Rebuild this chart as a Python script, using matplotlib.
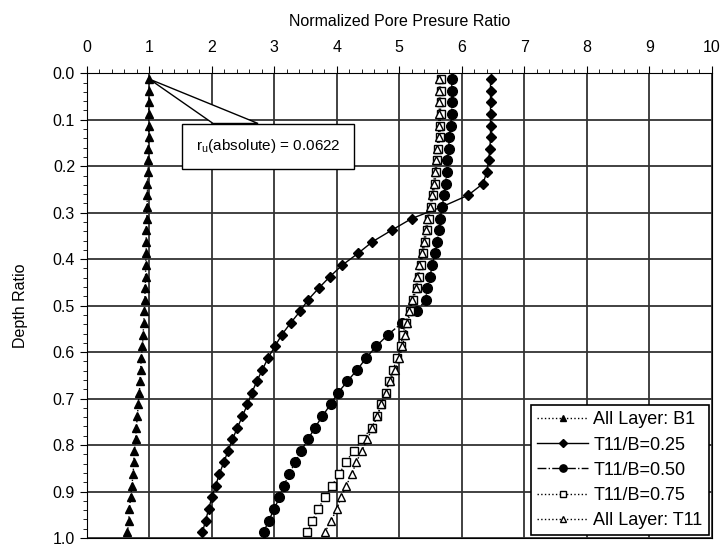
import numpy as np
import matplotlib.pyplot as plt
from matplotlib.ticker import MultipleLocator
from matplotlib.patches import Polygon

plt.rcParams['font.family'] = ['Liberation Sans', 'DejaVu Sans']

# kedalaman titik (tengah tiap lapisan)
depth = [0.0125, 0.0375, 0.0625, 0.0875, 0.1125, 0.1375, 0.1625, 0.1875,
         0.2125, 0.2375, 0.2625, 0.2875, 0.3125, 0.3375, 0.3625, 0.3875,
         0.4125, 0.4375, 0.4625, 0.4875, 0.5125, 0.5375, 0.5625, 0.5875,
         0.6125, 0.6375, 0.6625, 0.6875, 0.7125, 0.7375, 0.7625, 0.7875,
         0.8125, 0.8375, 0.8625, 0.8875, 0.9125, 0.9375, 0.9625, 0.9875]

all_b1 = [1.00, 1.00, 0.99, 0.99, 0.99, 0.99, 0.98, 0.98, 0.98, 0.97,
          0.97, 0.96, 0.96, 0.95, 0.95, 0.95, 0.94, 0.94, 0.93, 0.93,
          0.92, 0.91, 0.90, 0.89, 0.87, 0.86, 0.85, 0.84, 0.82, 0.81,
          0.79, 0.78, 0.76, 0.75, 0.74, 0.72, 0.70, 0.68, 0.67, 0.65]

t11_025 = [6.46, 6.46, 6.46, 6.46, 6.46, 6.46, 6.45, 6.43, 6.40, 6.34,
           6.10, 5.68, 5.20, 4.88, 4.57, 4.34, 4.09, 3.89, 3.71, 3.54,
           3.41, 3.26, 3.12, 3.01, 2.90, 2.81, 2.72, 2.64, 2.57, 2.49,
           2.41, 2.33, 2.26, 2.19, 2.12, 2.06, 2.00, 1.95, 1.90, 1.85]

t11_050 = [5.84, 5.84, 5.84, 5.84, 5.82, 5.80, 5.79, 5.77, 5.76, 5.74,
           5.71, 5.69, 5.65, 5.63, 5.61, 5.57, 5.53, 5.49, 5.45, 5.42,
           5.28, 5.04, 4.82, 4.63, 4.47, 4.33, 4.17, 4.02, 3.90, 3.77,
           3.65, 3.54, 3.43, 3.33, 3.24, 3.15, 3.08, 3.00, 2.91, 2.83]

t11_075 = [5.66, 5.66, 5.66, 5.66, 5.65, 5.65, 5.62, 5.61, 5.59, 5.57,
           5.54, 5.51, 5.47, 5.44, 5.41, 5.38, 5.34, 5.31, 5.28, 5.22,
           5.17, 5.10, 5.06, 5.02, 4.97, 4.90, 4.84, 4.78, 4.71, 4.65,
           4.56, 4.41, 4.27, 4.14, 4.04, 3.92, 3.81, 3.70, 3.61, 3.53]

all_t11 = [5.64, 5.64, 5.64, 5.64, 5.63, 5.63, 5.60, 5.59, 5.57, 5.55,
           5.52, 5.49, 5.45, 5.42, 5.39, 5.36, 5.32, 5.29, 5.26, 5.20,
           5.15, 5.13, 5.09, 5.05, 5.00, 4.93, 4.85, 4.78, 4.71, 4.65,
           4.57, 4.49, 4.40, 4.31, 4.24, 4.15, 4.07, 4.00, 3.91, 3.81]

ru_text = "r$_\\mathregular{u}$(absolute) = 0.0622"

fig = plt.figure(figsize=(7.24, 5.47), dpi=100)
ax = fig.add_axes([0.120, 0.0165, 0.863, 0.8495])

ax.plot(all_b1, depth, ':', color='black', lw=1, marker='^', ms=5.5,
        mfc='black', mec='black', label='All Layer: B1')
ax.plot(t11_025, depth, '-', color='black', lw=1, marker='D', ms=5,
        mfc='black', mec='black', label='T11/B=0.25')
ax.plot(t11_050, depth, '-.', color='black', lw=1, marker='o', ms=7,
        mfc='black', mec='black', label='T11/B=0.50')
ax.plot(t11_075, depth, ':', color='black', lw=1, marker='s', ms=6,
        mfc='white', mec='black', label='T11/B=0.75')
ax.plot(all_t11, depth, ':', color='black', lw=1, marker='^', ms=6,
        mfc='white', mec='black', label='All Layer: T11')

ax.set_xlim(0, 10)
ax.set_ylim(1.0, 0.0)
ax.xaxis.tick_top()
ax.xaxis.set_label_position('top')
ax.xaxis.set_major_locator(MultipleLocator(1))
ax.xaxis.set_minor_locator(MultipleLocator(0.2))
ax.yaxis.set_major_locator(MultipleLocator(0.1))
ax.yaxis.set_minor_locator(MultipleLocator(0.02))
ax.yaxis.set_major_formatter(plt.FormatStrFormatter('%.1f'))
ax.tick_params(which='major', direction='out', length=5, labelsize=11.5)
ax.tick_params(which='minor', direction='out', length=3)
ax.tick_params(axis='x', pad=8)
ax.grid(True, which='major', color='0.2', lw=1.3)
ax.set_axisbelow(True)

ax.set_xlabel('Normalized Pore Presure Ratio', fontsize=11.5, labelpad=10)
ax.set_ylabel('Depth Ratio', fontsize=11.5, labelpad=18)

# callout: baji dari titik pertama ke tepi atas kotak
tip = (all_b1[0], depth[0])
callout = Polygon([tip, (2.02, 0.108), (2.74, 0.108)], closed=True,
                  fc='white', ec='black', lw=1, zorder=5)
ax.add_patch(callout)
ax.text(2.9, 0.157, ru_text, ha='center', va='center', fontsize=11,
        zorder=6,
        bbox=dict(boxstyle='square,pad=0.9', fc='white', ec='black', lw=1))

leg = ax.legend(loc='lower right', fontsize=13, frameon=True, fancybox=False,
                edgecolor='black', framealpha=1, handlelength=2.8,
                handletextpad=0.3, borderaxespad=0.15, labelspacing=0.45,
                borderpad=0.35, markerscale=0.75)
leg.get_frame().set_linewidth(1.2)

fig.savefig('out.png', dpi=100)
